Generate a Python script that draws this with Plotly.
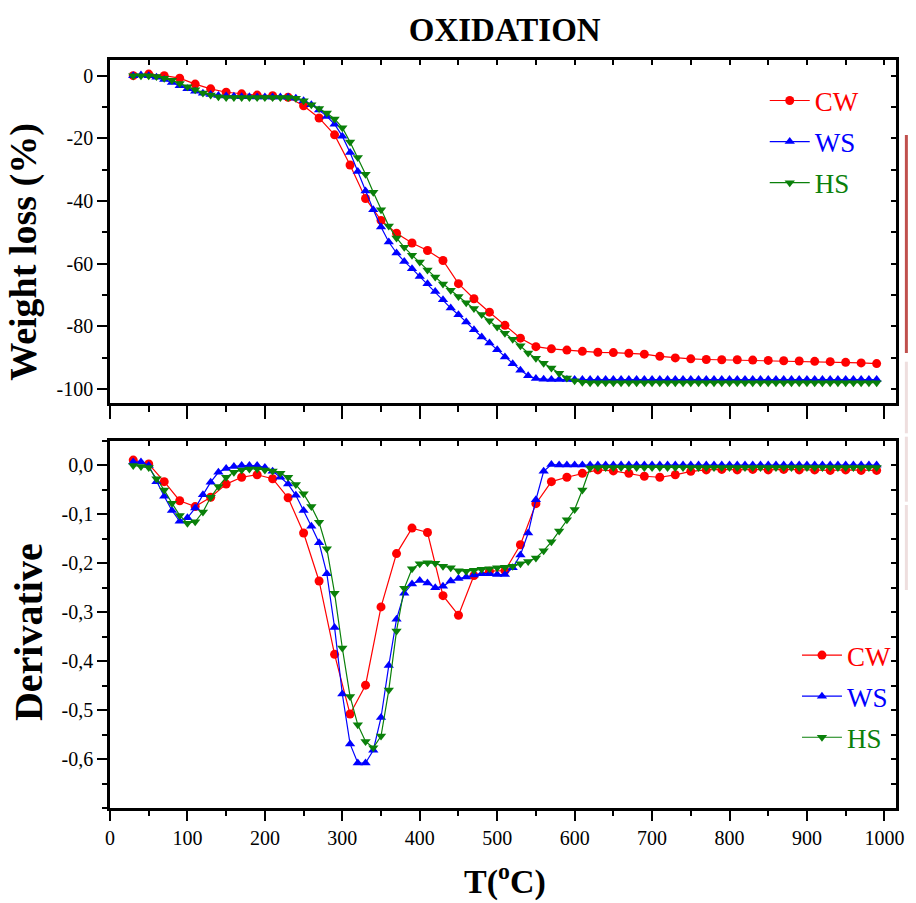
import plotly.graph_objects as go

# ---------------- data ----------------
T_CW = list(range(30, 1000, 20))
T_10 = list(range(30, 1000, 10))

CW_weight = [0, 0.5, 0, -0.8, -2.7, -4.2, -5.3, -5.8, -6.2, -6.4, -6.9, -9.6, -13.5, -18.9,
             -28.5, -39.2, -46.2, -50.3, -53.4, -55.8, -59.0, -66.4, -71.2, -75.5, -79.7,
             -83.8, -86.5, -87.2, -87.6, -88.0, -88.3, -88.4, -88.6, -88.9, -89.6, -90.1,
             -90.4, -90.6, -90.7, -90.7, -90.8, -90.9, -91.0, -91.1, -91.2, -91.3, -91.5,
             -91.7, -91.9]

WS_weight = [0, 0.2, 0, -0.5, -1.2, -2.2, -3.2, -4.2, -5.0, -5.6, -6.0, -6.3, -6.5, -6.6,
             -6.7, -6.7, -6.8, -6.8, -6.8, -6.8, -6.9, -7.2, -8.0, -9.3, -11.0, -13.0, -15.5,
             -19.3, -24.5, -30.6, -36.8, -42.8, -48.3, -53.1, -56.6, -59.3, -61.6, -64.1,
             -66.4, -68.9, -71.5, -74.2, -76.3, -78.6, -81.1, -83.4, -85.3, -87.5, -89.8,
             -92.0, -94.0, -95.8, -96.7, -96.9] + [-97.0] * 43

HS_weight = [0, 0, 0, -0.3, -0.8, -1.5, -2.5, -3.5, -4.5, -5.5, -6.2, -6.7, -7.0, -7.0,
             -7.0, -7.0, -7.0, -7.0, -7.0, -7.0, -7.0, -7.2, -8.0, -9.3, -10.5, -11.9, -13.8,
             -16.6, -21.2, -26.1, -31.5, -37.2, -42.8, -48.0, -51.8, -54.8, -57.3, -59.5,
             -62.0, -64.3, -66.5, -68.5, -70.5, -72.5, -74.3, -76.2, -78.2, -80.2, -82.2,
             -84.1, -86.2, -88.5, -90.2, -91.8, -93.3, -95.0, -96.5, -97.4, -97.9] + [-98.0] * 38

CW_deriv = [0.011, 0.003, -0.033, -0.072, -0.084, -0.065, -0.038, -0.024, -0.019, -0.027,
            -0.066, -0.138, -0.236, -0.386, -0.508, -0.449, -0.289, -0.180, -0.128, -0.137,
            -0.266, -0.306, -0.225, -0.216, -0.215, -0.162, -0.078, -0.033, -0.024, -0.016,
            -0.009, -0.011, -0.016, -0.022, -0.024, -0.019, -0.012, -0.009, -0.008, -0.009,
            -0.008, -0.009, -0.008, -0.009, -0.009, -0.010, -0.009, -0.010, -0.010]

WS_deriv = [0.007, 0.007, 0.0, -0.033, -0.063, -0.092, -0.114, -0.107, -0.087, -0.060,
            -0.034, -0.014, -0.006, -0.002, 0.0, 0.0, 0.0, -0.004, -0.012, -0.024, -0.038,
            -0.061, -0.092, -0.124, -0.158, -0.221, -0.331, -0.467, -0.569, -0.608, -0.608,
            -0.582, -0.515, -0.409, -0.314, -0.261, -0.242, -0.235, -0.240, -0.250, -0.247,
            -0.236, -0.231, -0.228, -0.224, -0.221, -0.221, -0.223, -0.223, -0.209, -0.183,
            -0.138, -0.070, -0.012, 0.002] + [0.001] * 42

HS_deriv = [0.0, -0.002, -0.004, -0.027, -0.050, -0.077, -0.102, -0.118, -0.115, -0.095,
            -0.065, -0.043, -0.024, -0.014, -0.009, -0.007, -0.007, -0.009, -0.011, -0.016,
            -0.024, -0.039, -0.058, -0.084, -0.116, -0.170, -0.261, -0.373, -0.472, -0.530,
            -0.564, -0.577, -0.553, -0.459, -0.338, -0.251, -0.211, -0.201, -0.199, -0.200,
            -0.206, -0.209, -0.215, -0.216, -0.214, -0.212, -0.211, -0.209, -0.208, -0.206,
            -0.201, -0.196, -0.189, -0.174, -0.156, -0.134, -0.111, -0.090, -0.050, -0.005] + [-0.004] * 37

x_ticks = list(range(0, 1001, 100))
x_text = [str(v) for v in x_ticks]
top_y_ticks = [0, -20, -40, -60, -80, -100]
top_y_text = ["0", "-20", "-40", "-60", "-80", "-100"]
bot_y_ticks = [0.0, -0.1, -0.2, -0.3, -0.4, -0.5, -0.6]
bot_y_text = ["0,0", "-0,1", "-0,2", "-0,3", "-0,4", "-0,5", "-0,6"]

series = [
    ("CW", "#ff0000", "circle", 9, T_CW, CW_weight, CW_deriv),
    ("WS", "#0000ff", "triangle-up", 9, T_10, WS_weight, WS_deriv),
    ("HS", "#0a800a", "triangle-down", 9, T_10, HS_weight, HS_deriv),
]

FONT = "Liberation Serif"

fig = go.Figure()
for name, col, sym, ms, xs, wt, dv in series:
    label = f"<span style='color:{col}'>{name}</span>"
    fig.add_trace(go.Scatter(x=xs, y=wt, mode="lines+markers", name=label,
                             line=dict(color=col, width=1.2),
                             marker=dict(symbol=sym, size=ms, color=col),
                             xaxis="x", yaxis="y", legend="legend", legendgroup="t" + name))
    fig.add_trace(go.Scatter(x=xs, y=dv, mode="lines+markers", name=label,
                             line=dict(color=col, width=1.2),
                             marker=dict(symbol=sym, size=ms, color=col),
                             xaxis="x2", yaxis="y2", legend="legend2", legendgroup="b" + name))

# dummy traces to activate mirror-tick axes
fig.add_trace(go.Scatter(x=[None], y=[None], xaxis="x3", yaxis="y3", showlegend=False, hoverinfo="skip"))
fig.add_trace(go.Scatter(x=[None], y=[None], xaxis="x4", yaxis="y4", showlegend=False, hoverinfo="skip"))

XR = [0, 1015]
TOPD = [0.5414, 1.0]
BOTD = [0.0, 0.4906]
YR1 = [-104.5, 5]
YR2 = [-0.7, 0.05]

axline = dict(showline=True, linecolor="black", linewidth=2.5, showgrid=False, zeroline=False)
tickf = dict(family=FONT, size=20, color="black")

fig.update_layout(
    width=916, height=903,
    margin=dict(l=110, r=12, t=60, b=95),
    paper_bgcolor="white", plot_bgcolor="white",
    font=dict(family=FONT, color="black"),
    title=dict(text="<b>OXIDATION</b>", x=0.551, xanchor="center", y=0.967, yanchor="middle",
               font=dict(family=FONT, size=33, color="black")),
    xaxis=dict(domain=[0, 1], anchor="y", range=XR, tickvals=x_ticks, showticklabels=False,
               ticks="outside", ticklen=13, tickwidth=2, tickcolor="black", mirror=True,
               minor=dict(dtick=50, tick0=0, ticks="outside", ticklen=6, tickwidth=1.5, tickcolor="black"),
               **axline),
    yaxis=dict(domain=TOPD, anchor="x", range=YR1, tickvals=top_y_ticks, ticktext=top_y_text,
               ticks="outside", ticklen=10, tickwidth=2, tickcolor="black", mirror=True, tickfont=tickf,
               minor=dict(dtick=10, tick0=0, ticks="outside", ticklen=5, tickwidth=1.5, tickcolor="black"),
               **axline),
    xaxis2=dict(domain=[0, 1], anchor="y2", range=XR, tickvals=x_ticks, ticktext=x_text, ticks="outside",
                ticklen=10, tickwidth=2, tickcolor="black", mirror=True, tickfont=tickf,
                minor=dict(dtick=50, tick0=0, ticks="outside", ticklen=5, tickwidth=1.5, tickcolor="black"),
                **axline),
    yaxis2=dict(domain=BOTD, anchor="x2", range=YR2, tickvals=bot_y_ticks, ticktext=bot_y_text,
                ticks="outside", ticklen=10, tickwidth=2, tickcolor="black", mirror=True, tickfont=tickf,
                minor=dict(dtick=0.05, tick0=0, ticks="outside", ticklen=5, tickwidth=1.5, tickcolor="black"),
                **axline),
    xaxis3=dict(overlaying="x", side="top", anchor="y", range=XR, dtick=50, tick0=0, ticks="inside",
                ticklen=5, tickwidth=1.5, tickcolor="black", showticklabels=False, showgrid=False,
                zeroline=False, showline=False),
    yaxis3=dict(overlaying="y", side="right", anchor="x", range=YR1, dtick=10, tick0=0, ticks="inside",
                ticklen=5, tickwidth=1.5, tickcolor="black", showticklabels=False, showgrid=False,
                zeroline=False, showline=False),
    xaxis4=dict(overlaying="x2", side="top", anchor="y2", range=XR, dtick=50, tick0=0, ticks="inside",
                ticklen=5, tickwidth=1.5, tickcolor="black", showticklabels=False, showgrid=False,
                zeroline=False, showline=False),
    yaxis4=dict(overlaying="y2", side="right", anchor="x2", range=YR2, dtick=0.05, tick0=0, ticks="inside",
                ticklen=5, tickwidth=1.5, tickcolor="black", showticklabels=False, showgrid=False,
                zeroline=False, showline=False),
    legend=dict(x=0.833, y=0.978, xanchor="left", yanchor="top", bgcolor="rgba(0,0,0,0)",
                font=dict(family=FONT, size=27), tracegroupgap=3, itemwidth=40),
    legend2=dict(x=0.874, y=0.2366, xanchor="left", yanchor="top", bgcolor="rgba(0,0,0,0)",
                 font=dict(family=FONT, size=27), tracegroupgap=3, itemwidth=40),
    showlegend=True,
)

fig.add_annotation(text="<b>Weight loss (%)</b>", xref="paper", yref="paper", x=-0.110, y=0.743,
                   textangle=-90, showarrow=False, xanchor="center", yanchor="middle",
                   font=dict(family=FONT, size=38, color="black"))
fig.add_annotation(text="<b>Derivative</b>", xref="paper", yref="paper", x=-0.103, y=0.2353,
                   textangle=-90, showarrow=False, xanchor="center", yanchor="middle",
                   font=dict(family=FONT, size=40, color="black"))
fig.add_annotation(text="<b>T(<sup>o</sup>C)</b>", xref="paper", yref="paper", x=0.5025, y=-0.096,
                   showarrow=False, xanchor="center", yanchor="middle",
                   font=dict(family=FONT, size=34, color="black"))

# decorative side bars at the right edge of the original image
fig.add_shape(type="rect", xref="paper", yref="paper", x0=1.0113, x1=1.0151, y0=0.6083, y1=0.8997,
              fillcolor="rgb(192,80,77)", line=dict(width=0))
for y0p, y1p in [(361.7, 433.3), (436.7, 501.7), (505.0, 590.0)]:
    fig.add_shape(type="rect", xref="paper", yref="paper", x0=1.0113, x1=1.0151,
                  y0=1 - (y1p - 60) / 748, y1=1 - (y0p - 60) / 748,
                  fillcolor="rgb(238,222,222)", line=dict(width=0))

fig.write_html("out.html")
